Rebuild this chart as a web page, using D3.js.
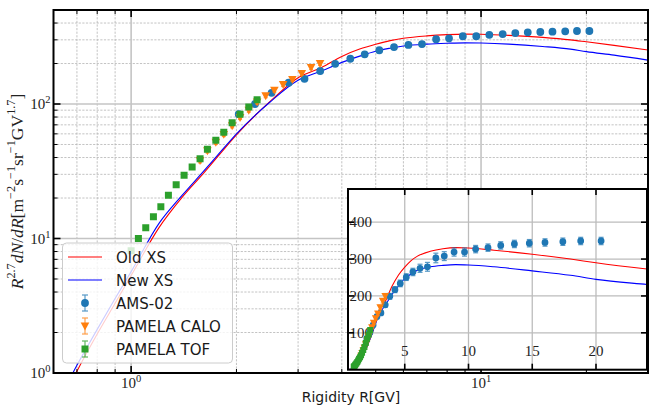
<!DOCTYPE html>
<html>
<head>
<meta charset="utf-8">
<script src="https://cdn.jsdelivr.net/npm/d3@7"></script>
<style>
  body { margin: 0; background: #fff; }
  svg { display: block; }
</style>
</head>
<body>
<svg id="chart" width="649" height="409"></svg>
<script>
// ---- Propagation model curves, R^2.7 dN/dR vs rigidity ----
const modelR = [0.6, 0.7, 0.8, 0.9, 1.0, 1.2, 1.4, 1.6, 1.8, 2.0, 2.5, 3.0, 3.5, 4.0, 4.5, 5.0, 5.5, 6.0, 7.0, 8.0, 9.0, 10, 12, 15, 18, 20, 24, 30];
const oldXS  = [0.45, 1.03, 1.95, 3.3, 5.3, 12.0, 20.3, 30, 43, 59, 105, 157, 187, 226, 256, 278, 296, 308, 321, 328, 331, 330, 324, 313, 300, 290, 273, 252];
const newXS  = [0.52, 1.14, 2.11, 3.58, 5.67, 12.9, 21.0, 31, 44, 60, 104, 150, 176, 204, 227, 247, 260, 270, 279, 283, 285, 284, 279, 268, 256, 245, 231, 212];

// ---- AMS-02 ----
const amsR    = [2.03, 2.26, 2.52, 2.82, 3.13, 3.47, 3.83, 4.23, 4.65, 5.12, 5.64, 6.20, 6.78, 7.44, 8.10, 8.87, 9.69, 10.56, 11.53, 12.53, 13.6, 14.77, 16.0, 17.4, 18.8, 20.4];
const amsFlux = [84, 100, 121, 144, 154, 176, 199, 217, 234, 251, 265, 275, 279, 303, 308, 319, 319, 327, 331, 337, 341, 343, 345, 347, 349, 349];
const amsErr  = [4, 4, 5, 6, 6, 7, 8, 8, 9, 9, 10, 11, 12, 13, 12, 11, 11, 10, 10, 10, 10, 10, 10, 10, 10, 10];

// ---- PAMELA calorimeter ----
const caloR    = [1.574, 1.652, 1.746, 1.840, 1.944, 2.048, 2.169, 2.291, 2.424, 2.567, 2.719, 2.890, 3.074, 3.268, 3.467];
const caloFlux = [38, 45, 52, 59.5, 69, 79.5, 90, 103.5, 115.3, 126.9, 139.7, 152, 169, 186.8, 200];
const caloErr  = [1.5, 1.7, 2.0, 2.2, 2.5, 2.8, 3.1, 3.5, 3.9, 4.3, 4.7, 5.1, 5.6, 6.1, 6.6];

// ---- PAMELA time-of-flight ----
const tofR    = [1.0, 1.049, 1.101, 1.158, 1.216, 1.278, 1.345, 1.417, 1.494, 1.574, 1.652, 1.746, 1.840, 1.944, 2.048, 2.169, 2.291];
const tofFlux = [8.1, 10.0, 12.0, 14.5, 17.2, 21.0, 25.1, 29.5, 34.0, 39.2, 46.0, 53.7, 61.6, 72.6, 83.8, 95.0, 107.6];
const tofErr  = [0.3, 0.4, 0.4, 0.5, 0.6, 0.7, 0.8, 1.0, 1.1, 1.3, 1.5, 1.7, 2.0, 2.3, 2.6, 3.0, 3.4];

// ---- Ticks ----
const mainXTicks  = [1, 10];
const mainXMinor  = [0.7, 0.8, 0.9, 2, 3, 4, 5, 6, 7, 8, 9, 20];
const mainYTicks  = [1, 10, 100];
const mainYMinor  = [2, 3, 4, 5, 6, 7, 8, 9, 20, 30, 40, 50, 60, 70, 80, 90, 200, 300, 400];
const insetXTicks = [5, 10, 15, 20];
const insetYTicks = [100, 200, 300, 400];

const legendLabels = ["Old XS", "New XS", "AMS-02", "PAMELA CALO", "PAMELA TOF"];

const C = { old: "#ff0000", neu: "#0000ff", ams: "#1f77b4", calo: "#ff7f0e", tof: "#2ca02c" };
const SERIF = "'Liberation Serif', 'DejaVu Serif', serif";
const SANS = "'DejaVu Sans', sans-serif";

const svg = d3.select("#chart");
const defs = svg.append("defs");

// ---------------- main axes ----------------
const M = { left: 53.5, right: 648, top: 10, bottom: 373 };
const x = d3.scaleLog().domain([0.6, 30]).range([M.left, M.right]);
const y = d3.scaleLog().domain([1, 500]).range([M.bottom, M.top]);

defs.append("clipPath").attr("id", "clipMain").append("rect")
  .attr("x", M.left).attr("y", M.top)
  .attr("width", M.right - M.left).attr("height", M.bottom - M.top);

const main = svg.append("g");
const grid = main.append("g");

// minor grid (dashed)
grid.selectAll(".gxm").data(mainXMinor).join("line")
  .attr("x1", d => x(d)).attr("x2", d => x(d)).attr("y1", M.top).attr("y2", M.bottom)
  .attr("stroke", "#b4b4b4").attr("stroke-width", 0.8).attr("stroke-dasharray", "2.2,1.4");
grid.selectAll(".gym").data(mainYMinor).join("line")
  .attr("y1", d => y(d)).attr("y2", d => y(d)).attr("x1", M.left).attr("x2", M.right)
  .attr("stroke", "#b4b4b4").attr("stroke-width", 0.8).attr("stroke-dasharray", "2.2,1.4");
// major grid (solid)
grid.selectAll(".gx").data(mainXTicks).join("line")
  .attr("x1", d => x(d)).attr("x2", d => x(d)).attr("y1", M.top).attr("y2", M.bottom)
  .attr("stroke", "#c4c4c4").attr("stroke-width", 1.6);
grid.selectAll(".gy").data(mainYTicks.filter(d => d > 1)).join("line")
  .attr("y1", d => y(d)).attr("y2", d => y(d)).attr("x1", M.left).attr("x2", M.right)
  .attr("stroke", "#c4c4c4").attr("stroke-width", 1.6);

const plotArea = main.append("g").attr("clip-path", "url(#clipMain)");

function drawCurves(g, xs, ys) {
  const line = vals => d3.line()
    .x((d, i) => xs(modelR[i])).y(d => ys(d))
    .curve(d3.curveMonotoneX)(vals);
  g.append("path").attr("d", line(oldXS)).attr("fill", "none").attr("stroke", C.old).attr("stroke-width", 1.1);
  g.append("path").attr("d", line(newXS)).attr("fill", "none").attr("stroke", C.neu).attr("stroke-width", 1.1);
}

function markerPath(kind, s) {
  if (kind === "circle") return d3.symbol(d3.symbolCircle, Math.PI * s * s)();
  if (kind === "square") return `M${-s},${-s}H${s}V${s}H${-s}Z`;
  // downward triangle
  return `M${-s},${-s * 0.8}H${s}L0,${s * 1.05}Z`;
}

function drawSeries(g, xs, ys, Rs, F, E, kind, color, s, cap) {
  const pts = Rs.map((r, i) => ({ r, f: F[i], e: E[i] }));
  const eg = g.append("g").attr("stroke", color).attr("stroke-width", 1.2).attr("opacity", 0.75);
  eg.selectAll("line.v").data(pts).join("line")
    .attr("x1", d => xs(d.r)).attr("x2", d => xs(d.r))
    .attr("y1", d => ys(d.f - d.e)).attr("y2", d => ys(d.f + d.e));
  [-1, 1].forEach(sg => {
    eg.selectAll(null).data(pts).join("line")
      .attr("x1", d => xs(d.r) - cap).attr("x2", d => xs(d.r) + cap)
      .attr("y1", d => ys(d.f + sg * d.e)).attr("y2", d => ys(d.f + sg * d.e));
  });
  g.selectAll(null).data(pts).join("path")
    .attr("d", markerPath(kind, s))
    .attr("transform", d => `translate(${xs(d.r)},${ys(d.f)})`)
    .attr("fill", color);
}

drawCurves(plotArea, x, y);
drawSeries(plotArea, x, y, amsR, amsFlux, amsErr, "circle", C.ams, 3.9, 2);
drawSeries(plotArea, x, y, caloR, caloFlux, caloErr, "tri", C.calo, 4.3, 2);
drawSeries(plotArea, x, y, tofR, tofFlux, tofErr, "square", C.tof, 3.5, 2);

// ---------------- legend ----------------
const leg = main.append("g");
leg.append("rect").attr("x", 62.5).attr("y", 243).attr("width", 170).attr("height", 120).attr("rx", 4)
  .attr("fill", "#fff").attr("fill-opacity", 0.8).attr("stroke", "#cccccc").attr("stroke-width", 1);
const legKinds = [
  { type: "line", color: C.old },
  { type: "line", color: C.neu },
  { type: "err", kind: "circle", color: C.ams, s: 3.9 },
  { type: "err", kind: "tri", color: C.calo, s: 4.3 },
  { type: "err", kind: "square", color: C.tof, s: 3.5 }
];
legendLabels.forEach((lab, i) => {
  const cy = 257 + i * 23;
  const k = legKinds[i];
  if (k.type === "line") {
    leg.append("line").attr("x1", 68).attr("x2", 102).attr("y1", cy).attr("y2", cy)
      .attr("stroke", k.color).attr("stroke-width", 1.1);
  } else {
    const eg = leg.append("g").attr("stroke", k.color).attr("stroke-width", 1.2).attr("opacity", 0.75);
    eg.append("line").attr("x1", 85).attr("x2", 85).attr("y1", cy - 8).attr("y2", cy + 8);
    eg.append("line").attr("x1", 82).attr("x2", 88).attr("y1", cy - 8).attr("y2", cy - 8);
    eg.append("line").attr("x1", 82).attr("x2", 88).attr("y1", cy + 8).attr("y2", cy + 8);
    leg.append("path").attr("d", markerPath(k.kind, k.s)).attr("transform", `translate(85,${cy})`).attr("fill", k.color);
  }
  leg.append("text").attr("x", 116).attr("y", cy + 5.5).text(lab)
    .style("font-family", SANS).style("font-size", "15px").attr("fill", "#1a1a1a");
});

// ---------------- main spines & ticks ----------------
const ax = main.append("g").attr("stroke", "#000");
function tickSet(vals, pos, len, w) {
  vals.forEach(v => {
    const p = pos(v);
    ax.append("line").attr("x1", p).attr("x2", p).attr("y1", M.bottom).attr("y2", M.bottom - len).attr("stroke-width", w);
    ax.append("line").attr("x1", p).attr("x2", p).attr("y1", M.top).attr("y2", M.top + len).attr("stroke-width", w);
  });
}
function tickSetY(vals, pos, len, w) {
  vals.forEach(v => {
    const p = pos(v);
    ax.append("line").attr("y1", p).attr("y2", p).attr("x1", M.left).attr("x2", M.left + len).attr("stroke-width", w);
    ax.append("line").attr("y1", p).attr("y2", p).attr("x1", M.right).attr("x2", M.right - len).attr("stroke-width", w);
  });
}
tickSet(mainXTicks, x, 7, 1.6);
tickSet(mainXMinor, x, 4, 1);
tickSetY(mainYTicks.filter(d => d > 1), y, 7, 1.6);
tickSetY(mainYMinor, y, 4, 1);
main.append("rect").attr("x", M.left).attr("y", M.top)
  .attr("width", M.right - M.left).attr("height", M.bottom - M.top)
  .attr("fill", "none").attr("stroke", "#000").attr("stroke-width", 2);

// tick labels "10^k"
function powLabel(g, px, py, k, anchor) {
  const t = g.append("text").attr("x", px).attr("y", py).attr("text-anchor", anchor)
    .style("font-family", SERIF).style("font-size", "15px").attr("fill", "#222");
  t.append("tspan").text("10");
  t.append("tspan").attr("dy", -6).style("font-size", "10.5px").text(String(k));
}
mainYTicks.forEach(v => powLabel(svg, 50.5, y(v) + 5, Math.round(Math.log10(v)), "end"));
mainXTicks.forEach(v => powLabel(svg, x(v), 387.5, Math.round(Math.log10(v)), "middle"));

// axis titles
svg.append("text").attr("x", 351).attr("y", 402).attr("text-anchor", "middle")
  .style("font-family", SANS).style("font-size", "14px").attr("fill", "#1a1a1a").text("Rigidity R[GV]");

const yParts = [
  ["R", "i"], ["2.7", "sup"], ["dN", "i"], ["/", "r"], ["dR", "i"], ["[m", "r"], ["\u22122", "sup"],
  ["s", "r"], ["\u22121", "sup"], ["sr", "r"], ["\u22121", "sup"], ["GV", "r"], ["1.7", "sup"], ["]", "r"]
];
const yl = svg.append("text").attr("transform", "translate(22.5,191.5) rotate(-90)")
  .attr("text-anchor", "middle").style("font-family", SERIF).attr("fill", "#222");
function buildYLabel(fs) {
  yl.selectAll("*").remove();
  yl.style("font-size", fs + "px");
  let raised = false;
  const lift = fs * 0.4;
  yParts.forEach(([txt, st]) => {
    const ts = yl.append("tspan").text(txt);
    if (st === "sup") { ts.attr("dy", raised ? 0 : -lift).style("font-size", (fs * 0.7) + "px"); raised = true; }
    else {
      if (raised) { ts.attr("dy", lift); raised = false; }
      if (st === "i") ts.style("font-style", "italic");
    }
  });
}
// size the title so that it spans the intended length along the axis
buildYLabel(15);
const ylLen = yl.node().getBBox().width;
buildYLabel(15 * 197 / ylLen);

// ---------------- inset ----------------
const I = { left: 348, right: 647, top: 189, bottom: 369.7 };
const xi = d3.scaleLinear().domain([0.55, 24]).range([I.left, I.right]);
const yi = d3.scaleLinear().domain([0, 490]).range([I.bottom, I.top]);
defs.append("clipPath").attr("id", "clipInset").append("rect")
  .attr("x", I.left).attr("y", I.top).attr("width", I.right - I.left).attr("height", I.bottom - I.top);

const inset = svg.append("g");
inset.append("rect").attr("x", I.left).attr("y", I.top).attr("width", I.right - I.left).attr("height", I.bottom - I.top)
  .attr("fill", "#fff");
inset.selectAll(".igx").data(insetXTicks).join("line")
  .attr("x1", d => xi(d)).attr("x2", d => xi(d)).attr("y1", I.top).attr("y2", I.bottom)
  .attr("stroke", "#bcbcbc").attr("stroke-width", 1.3);
inset.selectAll(".igy").data(insetYTicks).join("line")
  .attr("y1", d => yi(d)).attr("y2", d => yi(d)).attr("x1", I.left).attr("x2", I.right)
  .attr("stroke", "#bcbcbc").attr("stroke-width", 1.3);

// tick labels sit inside the inset frame
insetYTicks.forEach(v => inset.append("text").attr("x", 372).attr("y", yi(v) + 5).attr("text-anchor", "end")
  .style("font-family", SERIF).style("font-size", "15px").attr("fill", "#222").text(v));
insetXTicks.forEach(v => inset.append("text").attr("x", xi(v)).attr("y", 355.5).attr("text-anchor", "middle")
  .style("font-family", SERIF).style("font-size", "15px").attr("fill", "#222").text(v));

const insetArea = inset.append("g").attr("clip-path", "url(#clipInset)");
drawCurves(insetArea, xi, yi);
drawSeries(insetArea, xi, yi, amsR, amsFlux, amsErr, "circle", C.ams, 3.4, 2.5);
drawSeries(insetArea, xi, yi, caloR, caloFlux, caloErr, "tri", C.calo, 3.8, 2);
drawSeries(insetArea, xi, yi, tofR, tofFlux, tofErr, "square", C.tof, 3.0, 2);

const iax = inset.append("g").attr("stroke", "#000").attr("stroke-width", 1.6);
insetXTicks.forEach(v => {
  iax.append("line").attr("x1", xi(v)).attr("x2", xi(v)).attr("y1", I.bottom).attr("y2", I.bottom - 6);
  iax.append("line").attr("x1", xi(v)).attr("x2", xi(v)).attr("y1", I.top).attr("y2", I.top + 6);
});
insetYTicks.forEach(v => {
  iax.append("line").attr("y1", yi(v)).attr("y2", yi(v)).attr("x1", I.left).attr("x2", I.left + 6);
  iax.append("line").attr("y1", yi(v)).attr("y2", yi(v)).attr("x1", I.right).attr("x2", I.right - 6);
});
inset.append("rect").attr("x", I.left).attr("y", I.top).attr("width", I.right - I.left).attr("height", I.bottom - I.top)
  .attr("fill", "none").attr("stroke", "#000").attr("stroke-width", 2);
</script>
</body>
</html>
